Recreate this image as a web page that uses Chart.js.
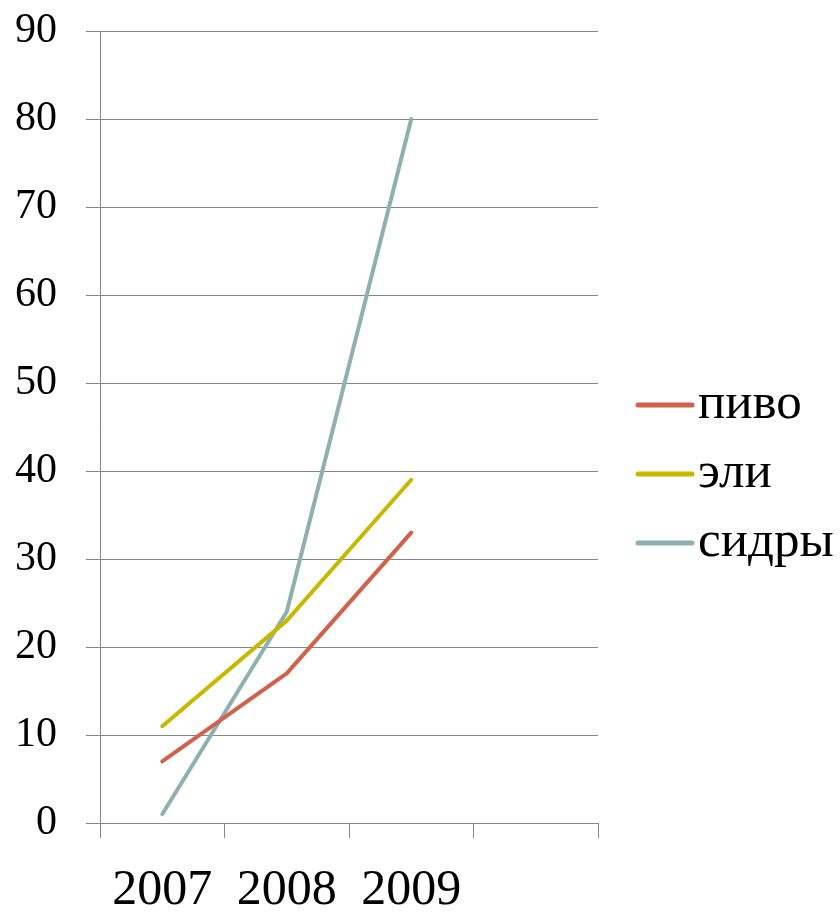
<!DOCTYPE html>
<html>
<head>
<meta charset="utf-8">
<script src="https://cdn.jsdelivr.net/npm/chart.js@4.4.1/dist/chart.umd.min.js"></script>
<style>
  html, body { margin: 0; padding: 0; background: #fff; }
  #wrap { width: 840px; height: 914px; }
</style>
</head>
<body>
<div id="wrap"><canvas id="lineChart"></canvas></div>
<script>
const years = ['2007', '2008', '2009', ''];
const beer = [7, 17, 33];
const ales = [11, 23, 39];
const ciders = [1, 24, 80];
const yTicks = [0, 10, 20, 30, 40, 50, 60, 70, 80, 90];

const serif = '"Liberation Serif", "DejaVu Serif", serif';

// legend drawn by hand so the line samples sit where the original has them
const sideLegend = {
    id: 'sideLegend',
    afterDraw(chart) {
        const ctx = chart.ctx;
        const x0 = chart.chartArea.right + 40;
        let y = 405;
        ctx.save();
        ctx.font = '51px ' + serif;
        ctx.textBaseline = 'middle';
        ctx.textAlign = 'left';
        chart.data.datasets.forEach(ds => {
            ctx.strokeStyle = ds.borderColor;
            ctx.lineWidth = 5;
            ctx.lineCap = 'round';
            ctx.beginPath();
            ctx.moveTo(x0, y);
            ctx.lineTo(x0 + 54, y);
            ctx.stroke();
            ctx.fillStyle = '#000';
            ctx.fillText(ds.label, x0 + 60, y);
            y += 69;
        });
        ctx.restore();
    }
};

document.addEventListener('DOMContentLoaded', function() {
    const ctx = document.getElementById('lineChart').getContext('2d');
    new Chart(ctx, {
        type: 'line',
        data: {
            labels: years,
            datasets: [
                { label: 'пиво', data: beer, borderColor: '#D2604A' },
                { label: 'эли', data: ales, borderColor: '#C9B800' },
                { label: 'сидры', data: ciders, borderColor: '#8EB0B0' }
            ].map(ds => Object.assign(ds, {
                backgroundColor: ds.borderColor,
                borderWidth: 4,
                pointRadius: 0,
                tension: 0,
                borderCapStyle: 'round',
                borderJoinStyle: 'round'
            }))
        },
        options: {
            responsive: true,
            maintainAspectRatio: false,
            animation: false,
            layout: {
                padding: { top: 31, right: 242, bottom: 0, left: 0 }
            },
            plugins: {
                legend: { display: false },
                tooltip: { enabled: false }
            },
            scales: {
                x: {
                    offset: true,
                    grid: {
                        offset: true,
                        drawOnChartArea: false,
                        color: '#868686',
                        tickLength: 15
                    },
                    border: { display: false },
                    ticks: {
                        color: '#000',
                        padding: 23,
                        maxRotation: 0,
                        font: { family: serif, size: 50 }
                    },
                    afterFit: function(scale) { scale.height = 91; }
                },
                y: {
                    min: 0,
                    max: 90,
                    afterBuildTicks: function(scale) {
                        scale.ticks = yTicks.map(v => ({ value: v }));
                    },
                    grid: {
                        color: '#868686',
                        tickLength: 14
                    },
                    border: { color: '#868686' },
                    ticks: {
                        color: '#000',
                        padding: 29,
                        font: { family: serif, size: 42 }
                    },
                    afterFit: function(scale) {
                        scale.width = 100;
                        scale.paddingTop = 0;
                        scale.paddingBottom = 0;
                    }
                }
            }
        },
        plugins: [sideLegend]
    });
});
</script>
</body>
</html>
